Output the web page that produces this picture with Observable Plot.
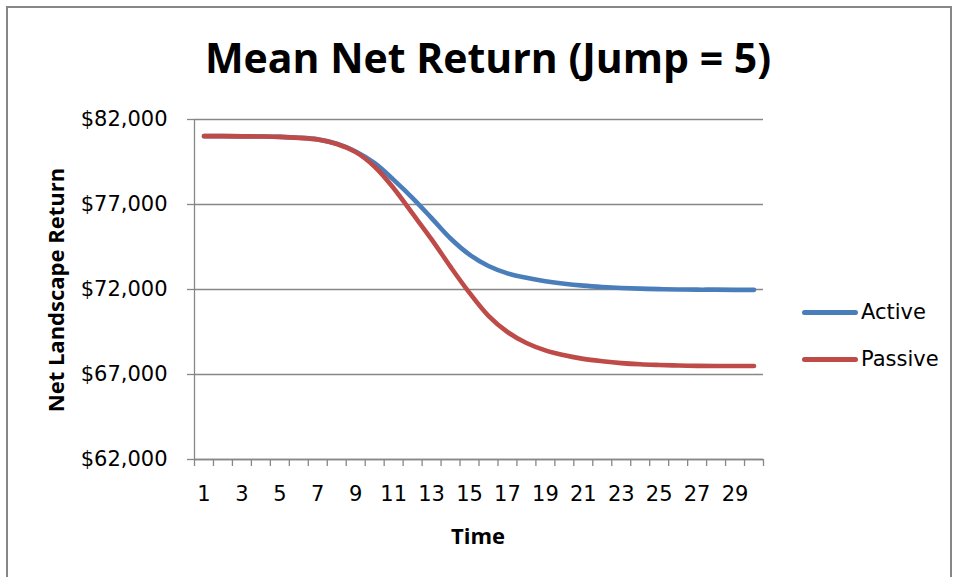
<!DOCTYPE html>
<html>
<head>
<meta charset="utf-8">
<script src="https://cdn.jsdelivr.net/npm/d3@7"></script>
<script src="https://cdn.jsdelivr.net/npm/@observablehq/plot@0.6"></script>
<style>
  html, body { margin: 0; padding: 0; background: #fff; }
  body { font-family: "Open Sans", sans-serif; color: #000; }
  #wrap { position: relative; width: 957px; height: 577px; overflow: hidden; background: #fff; }
  #frame { position: absolute; left: 6px; top: 6px; width: 946px; height: 640px; border: 2px solid #878787; box-sizing: border-box; }
  #chart { position: absolute; left: 0; top: 0; }
  .lbl { position: absolute; line-height: 1; white-space: nowrap; transform: translate(-50%, -50%); }
  #title { left: 488px; top: 57px; font-size: 41px; font-weight: bold; }
  #xtitle { left: 478px; top: 535px; font-size: 22px; font-weight: bold; }
  #ytitle { left: 55px; top: 290px; font-size: 22px; font-weight: bold; transform: translate(-50%, -50%) rotate(-90deg); }
  .leg { position: absolute; left: 802px; width: 56px; height: 5px; border-radius: 3px; }
  .legt { position: absolute; left: 861px; font-family: "DejaVu Sans", sans-serif; font-size: 21px; line-height: 1; transform: translateY(-50%); }
</style>
</head>
<body>
<div id="wrap">
  <div id="frame"></div>
  <div id="chart"></div>
  <div id="title" class="lbl">Mean Net Return (Jump = 5)</div>
  <div id="xtitle" class="lbl">Time</div>
  <div id="ytitle" class="lbl">Net Landscape Return</div>
  <div id="legend"></div>
</div>
<script>
// ---- data ----
const time = [1,2,3,4,5,6,7,8,9,10,11,12,13,14,15,16,17,18,19,20,21,22,23,24,25,26,27,28,29,30];
const active = [81020,81020,81010,81000,80980,80930,80830,80580,80120,79430,78450,77380,76200,75000,74050,73380,72950,72690,72490,72340,72230,72150,72090,72050,72020,72000,71990,71990,71980,71980];
const passive = [81020,81020,81010,81000,80980,80920,80820,80560,80080,79220,77960,76460,74950,73330,71800,70450,69500,68850,68420,68130,67920,67780,67670,67600,67560,67530,67510,67500,67500,67500];
const seriesNames = ["Active", "Passive"];
const seriesColors = ["#4A7EBB", "#BE4B48"];
const yTicks = [62000, 67000, 72000, 77000, 82000];
const xLabelTicks = [1,3,5,7,9,11,13,15,17,19,21,23,25,27,29];
const xBoundaries = [0.5, ...time.map(t => t + 0.5)];

const rows = [];
time.forEach((t, i) => {
  rows.push({time: t, value: active[i], series: seriesNames[0]});
  rows.push({time: t, value: passive[i], series: seriesNames[1]});
});

const gridColor = "#878787";

const chart = Plot.plot({
  width: 957,
  height: 577,
  marginLeft: 194,
  marginRight: 194,
  marginTop: 119,
  marginBottom: 118,
  style: {fontFamily: "'DejaVu Sans', sans-serif", fontSize: "21px", color: "#000", background: "transparent"},
  x: {domain: [0.5, 30.5]},
  y: {domain: [62000, 82000]},
  color: {domain: seriesNames, range: seriesColors},
  marks: [
    Plot.gridY(yTicks, {stroke: gridColor, strokeOpacity: 1, strokeWidth: 1.3}),
    Plot.ruleX([0.5], {stroke: gridColor, strokeWidth: 1.3}),
    Plot.ruleY([62000], {stroke: gridColor, strokeWidth: 1.3}),
    Plot.axisY({ticks: yTicks, tickFormat: d3.format("$,"), tickSize: 7, tickPadding: 20, stroke: gridColor, strokeWidth: 1.3, label: null, fontSize: 21}),
    Plot.axisX({ticks: xBoundaries, tickFormat: () => "", tickSize: 7, stroke: gridColor, strokeWidth: 1.3, label: null}),
    Plot.axisX({ticks: xLabelTicks, tickSize: 0, tickPadding: 27, label: null, fontSize: 21}),
    Plot.line(rows, {x: "time", y: "value", z: "series", stroke: "series", strokeWidth: 4.6, curve: "catmull-rom", strokeLinecap: "round", strokeLinejoin: "round"})
  ]
});
document.getElementById("chart").appendChild(chart);

// legend
const legend = document.getElementById("legend");
const legendY = [312, 359];
seriesNames.forEach((name, i) => {
  const bar = document.createElement("div");
  bar.className = "leg";
  bar.style.top = (legendY[i] - 2.5) + "px";
  bar.style.background = seriesColors[i];
  legend.appendChild(bar);
  const t = document.createElement("div");
  t.className = "legt";
  t.style.top = legendY[i] + "px";
  t.textContent = name;
  legend.appendChild(t);
});
</script>
</body>
</html>
